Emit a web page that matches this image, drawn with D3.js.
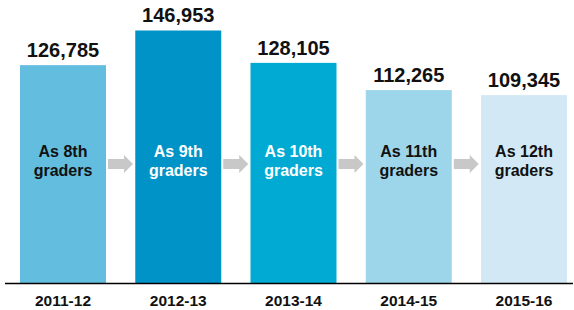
<!DOCTYPE html>
<html><head><meta charset="utf-8">
<script src="https://cdn.jsdelivr.net/npm/d3@7"></script>
<style>body{margin:0;background:#fff}svg{display:block}text{font-family:"Liberation Sans",Arial,sans-serif;font-weight:bold}</style>
</head><body><div id="chart"></div>
<script>
const years = ["2011-12","2012-13","2013-14","2014-15","2015-16"];
const students = [126785,146953,128105,112265,109345];
const gradeLine1 = ["As 8th","As 9th","As 10th","As 11th","As 12th"];
const gradeLine2 = ["graders","graders","graders","graders","graders"];
const barColors = ["#62bddf","#0093c8","#00aad3","#9dd5ea","#d2e8f4"];
const innerTextColors = ["#111","#fff","#fff","#111","#111"];

const W = 574, H = 310, baseY = 283;
const svg = d3.select("#chart").append("svg").attr("width", W).attr("height", H);

const x = d3.scaleBand().domain(years).range([20, 567]).paddingInner(0.254).paddingOuter(0);
const y = d3.scaleLinear().domain([0, 164700]).range([baseY, 0]);
const data = years.map((yr, i) => ({yr, v: students[i], l1: gradeLine1[i], l2: gradeLine2[i], c: barColors[i], tc: innerTextColors[i]}));

svg.selectAll("rect.bar").data(data).join("rect").attr("class","bar")
  .attr("x", d => x(d.yr)).attr("width", x.bandwidth())
  .attr("y", d => y(d.v)).attr("height", d => baseY - y(d.v))
  .attr("fill", d => d.c);

const fmt = d3.format(",");
svg.selectAll("text.val").data(data).join("text").attr("class","val")
  .attr("x", d => x(d.yr) + x.bandwidth()/2).attr("y", d => y(d.v) - 8)
  .attr("text-anchor","middle").attr("font-size", 20).attr("fill","#111")
  .text(d => fmt(d.v));

svg.selectAll("text.l1").data(data).join("text").attr("class","l1")
  .attr("x", d => x(d.yr) + x.bandwidth()/2).attr("y", 157)
  .attr("text-anchor","middle").attr("font-size", 16).attr("fill", d => d.tc)
  .text(d => d.l1);
svg.selectAll("text.l2").data(data).join("text").attr("class","l2")
  .attr("x", d => x(d.yr) + x.bandwidth()/2).attr("y", 176)
  .attr("text-anchor","middle").attr("font-size", 16).attr("fill", d => d.tc)
  .text(d => d.l2);

// arrows between bars
const arrowData = data.slice(0, -1);
svg.selectAll("path.arrow").data(arrowData).join("path").attr("class","arrow")
  .attr("d", (d) => {
    const x0 = x(d.yr) + x.bandwidth() + 2;
    const x1 = x0 + 25;
    const xh = x0 + 16, cy = 164;
    return `M${x0},${cy-5}L${xh},${cy-5}L${xh},${cy-9}L${x1},${cy}L${xh},${cy+9}L${xh},${cy+5}L${x0},${cy+5}Z`;
  })
  .attr("fill","#c8c8c8");

// axis
const xAxis = d3.axisBottom(x).tickSize(0).tickPadding(12);
const gAx = svg.append("g").attr("transform", `translate(0,${baseY})`).call(xAxis);
gAx.select(".domain").remove();
gAx.selectAll("text").attr("font-size", 15.5).attr("fill","#111")
  .style("font-family",'"Liberation Sans",Arial,sans-serif').style("font-weight","bold");
svg.append("line").attr("x1",5).attr("x2",573).attr("y1",baseY+0.5).attr("y2",baseY+0.5)
  .attr("stroke","#000").attr("stroke-width",1.5);
</script></body></html>
